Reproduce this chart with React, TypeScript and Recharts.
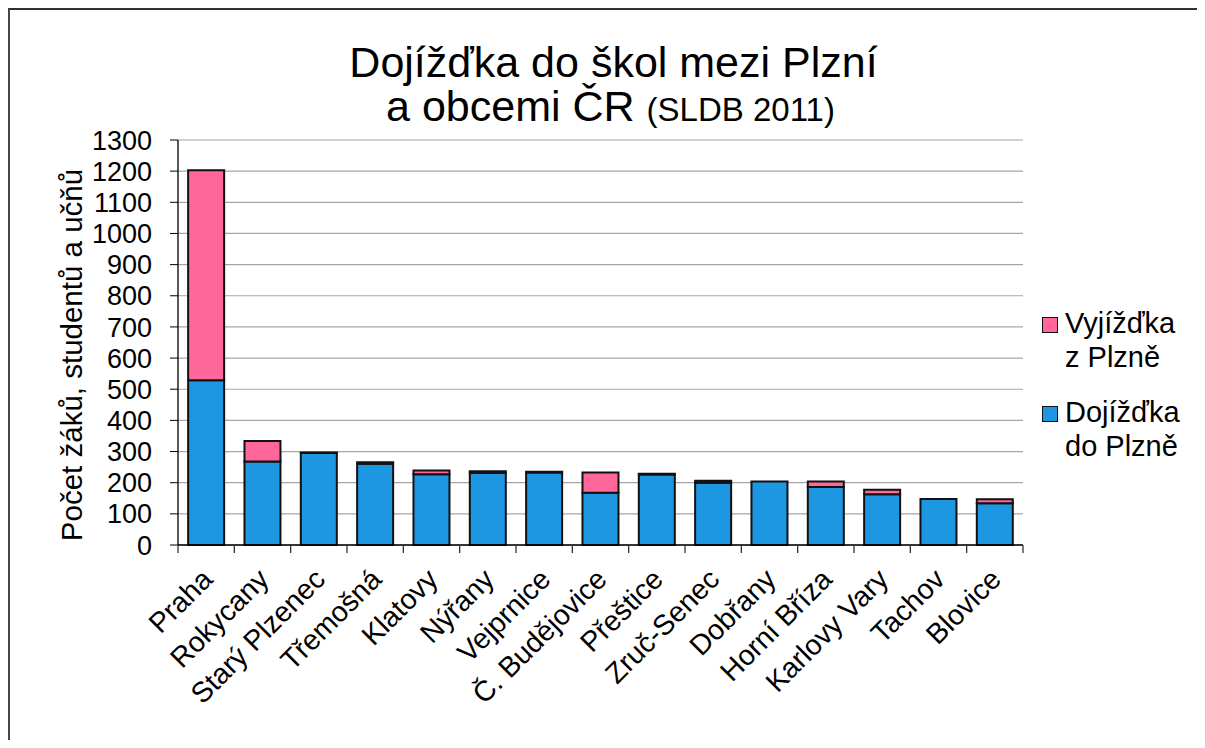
import { BarChart, Bar, XAxis, YAxis, CartesianGrid } from "recharts";

const FONT = "'Liberation Sans', Arial, sans-serif";

const categories = [
  "Praha",
  "Rokycany",
  "Starý Plzenec",
  "Třemošná",
  "Klatovy",
  "Nýřany",
  "Vejprnice",
  "Č. Budějovice",
  "Přeštice",
  "Zruč-Senec",
  "Dobřany",
  "Horní Bříza",
  "Karlovy Vary",
  "Tachov",
  "Blovice",
];

// dojížďka do Plzně (spodní, modrá)
const dojizdka = [529, 268, 295, 261, 227, 232, 233, 168, 226, 200, 204, 186, 163, 148, 134];
// vyjížďka z Plzně (horní, růžová)
const vyjizdka = [674, 66, 2, 5, 12, 5, 2, 65, 3, 6, 0, 18, 14, 0, 13];

const yTicks = [0, 100, 200, 300, 400, 500, 600, 700, 800, 900, 1000, 1100, 1200, 1300];

const series = [
  { key: "vyj", name: "Vyjížďka z Plzně", color: "#ff6699" },
  { key: "doj", name: "Dojížďka do Plzně", color: "#1e97e2" },
];

const data = categories.map((c, i) => ({ name: c, doj: dojizdka[i], vyj: vyjizdka[i] }));

const W = 1197;
const H = 732;
const margin = { top: 132, right: 182, bottom: 45, left: 70 };
const Y_W = 100;
const X_H = 150;
const plotW = W - margin.left - Y_W - margin.right;
const halfBand = plotW / categories.length / 2;

function CategoryTick(props: any) {
  const { x, y, payload, index } = props;
  const axisY = y - 8;
  const ax = x + 8;
  const ay = y + 28;
  return (
    <g>
      <line x1={x - halfBand} y1={axisY} x2={x - halfBand} y2={axisY + 8} stroke="#333" strokeWidth={1.3} />
      {index === categories.length - 1 && (
        <line x1={x + halfBand} y1={axisY} x2={x + halfBand} y2={axisY + 8} stroke="#333" strokeWidth={1.3} />
      )}
      <text
        x={ax}
        y={ay}
        textAnchor="end"
        transform={`rotate(-45 ${ax} ${ay})`}
        fontSize={28.5}
        fontFamily={FONT}
        fill="#000"
      >
        {payload.value}
      </text>
    </g>
  );
}

export default function App() {
  return (
    <div style={{ position: "relative", width: W, height: H, fontFamily: FONT, background: "#fff" }}>
      <div
        style={{
          position: "absolute",
          left: 0,
          top: 0,
          width: W,
          height: H,
          boxSizing: "border-box",
          borderLeft: "2px solid #474747",
          borderTop: "2px solid #303030",
        }}
      />

      {/* TITLE */}
      <div
        style={{
          position: "absolute",
          left: 105.5,
          width: 1000,
          top: 32,
          textAlign: "center",
          fontSize: 43,
          lineHeight: "44px",
          color: "#000",
        }}
      >
        Dojížďka do škol mezi Plzní
      </div>
      <div
        style={{
          position: "absolute",
          left: 102.5,
          width: 1000,
          top: 76,
          textAlign: "center",
          fontSize: 43,
          lineHeight: "44px",
          color: "#000",
        }}
      >
        a obcemi ČR <span style={{ fontSize: 33 }}>(SLDB 2011)</span>
      </div>

      {/* Y LABEL */}
      <div
        style={{
          position: "absolute",
          left: 64 - 210,
          top: 347 - 17,
          width: 420,
          lineHeight: "34px",
          textAlign: "center",
          fontSize: 29.5,
          transform: "rotate(-90deg)",
          whiteSpace: "nowrap",
        }}
      >
        Počet žáků, studentů a učňů
      </div>

      {/* CHART */}
      <div style={{ position: "absolute", left: 0, top: 0 }}>
        <BarChart width={W} height={H} data={data} margin={margin} barCategoryGap="18%">
          <CartesianGrid vertical={false} stroke="#a6a6a6" strokeWidth={1.2} />
          <XAxis
            dataKey="name"
            height={X_H}
            interval={0}
            tickLine={false}
            tickSize={8}
            tickMargin={0}
            axisLine={{ stroke: "#000", strokeWidth: 1.3 }}
            tick={<CategoryTick />}
          />
          <YAxis
            width={Y_W}
            domain={[0, 1300]}
            ticks={yTicks}
            interval={0}
            tickSize={8}
            tickMargin={18}
            tickLine={{ stroke: "#000" }}
            axisLine={{ stroke: "#000", strokeWidth: 1.3 }}
            tick={{ fontSize: 27, fill: "#000", fontFamily: FONT }}
          />
          <YAxis
            yAxisId="r"
            orientation="right"
            width={0}
            tick={false}
            tickLine={false}
            axisLine={{ stroke: "#8c8c8c", strokeWidth: 1.3 }}
          />
          <Bar dataKey="doj" stackId="a" fill="#1e97e2" stroke="#111" strokeWidth={2} isAnimationActive={false} />
          <Bar dataKey="vyj" stackId="a" fill="#ff6699" stroke="#111" strokeWidth={2} isAnimationActive={false} />
        </BarChart>
      </div>

      {/* LEGEND */}
      <div style={{ position: "absolute", left: 1034, top: 298 }}>
        {series.map((s, i) => (
          <div key={s.key} style={{ position: "relative", marginTop: i === 0 ? 0 : 21, paddingLeft: 23 }}>
            <div
              style={{
                position: "absolute",
                left: 0,
                top: 11,
                width: 16,
                height: 16,
                boxSizing: "border-box",
                background: s.color,
                border: "1.5px solid #111",
              }}
            />
            <div style={{ width: 125, fontSize: 29, lineHeight: "34px", color: "#000" }}>{s.name}</div>
          </div>
        ))}
      </div>
    </div>
  );
}
